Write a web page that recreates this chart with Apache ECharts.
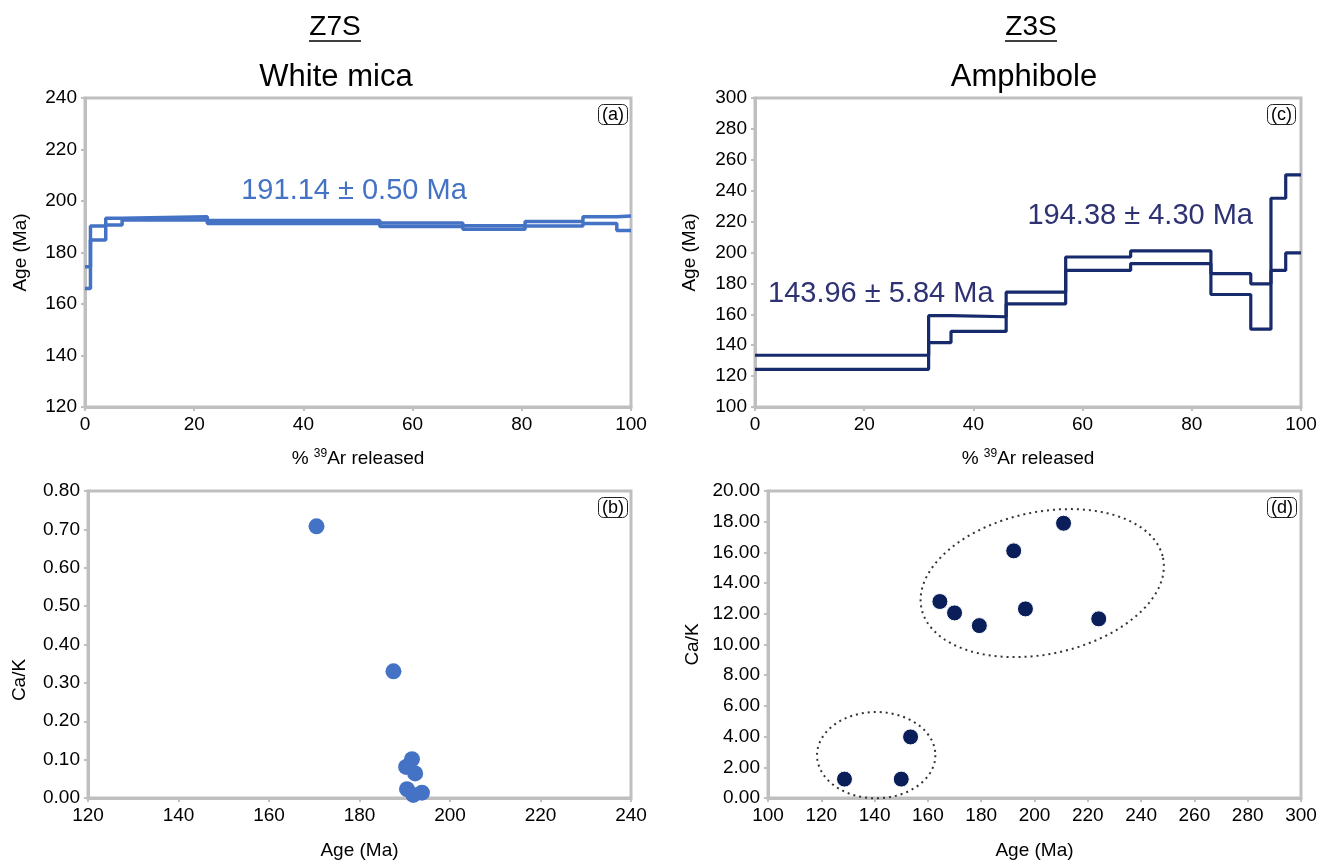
<!DOCTYPE html>
<html><head><meta charset="utf-8">
<script src="https://cdn.jsdelivr.net/npm/echarts@6/dist/echarts.min.js"></script>
<style>html,body{margin:0;padding:0;background:#fff}#c{width:1333px;height:863px}</style>
</head><body><div id="c"></div>
<script>
// ---- Data ----
// (a) Z7S white mica age spectrum: step boundaries (% 39Ar released) and upper/lower ages (Ma)
const micaSteps = [0, 1.0, 3.8, 6.8, 22.4, 54.0, 69.2, 80.6, 91.2, 97.4, 100];
const micaUpper = [174.5, 190.3, 193.3, 193.9, 192.4, 191.5, 190.4, 192.0, 193.9, 194.2];
const micaLower = [166.0, 184.9, 190.7, 192.6, 191.3, 190.1, 189.0, 190.3, 191.3, 188.5];
// (c) Z3S amphibole age spectrum
const amphSteps = [0, 31.8, 35.9, 46.0, 56.9, 68.8, 83.5, 90.8, 94.5, 97.2, 100];
const amphUpper = [133.5, 159.1, 158.4, 174.3, 197.1, 201.0, 186.3, 179.7, 235.1, 250.3];
const amphLower = [124.4, 141.7, 148.9, 166.7, 188.4, 192.8, 172.8, 150.4, 188.4, 199.7];
// (b) white mica Ca/K vs age
const micaAge = [170.5, 187.5, 191.6, 190.3, 192.3, 190.5, 191.9, 193.8];
const micaCaK = [0.708, 0.330, 0.101, 0.081, 0.064, 0.023, 0.008, 0.014];
// (d) amphibole Ca/K vs age
const amphAge = [210.9, 192.2, 164.5, 170.0, 179.3, 196.6, 224.1, 153.5, 128.7, 150.0];
const amphCaK = [17.9, 16.1, 12.8, 12.06, 11.23, 12.32, 11.67, 3.98, 1.23, 1.23];
// grouping ellipses in (d): [centre age, centre Ca/K, half-width (Ma), half-height (Ca/K), tilt deg]
const groupEllipses = [[202.9, 14.0, 46.3, 4.63, 11.8], [140.6, 2.79, 22.2, 2.81, 0]];
// annotation texts
const plateauMica = '191.14 ± 0.50 Ma';
const plateauAmphLow = '143.96 ± 5.84 Ma';
const plateauAmphHigh = '194.38 ± 4.30 Ma';

// ---- helpers ----
function stepPath(bounds, vals) {
  const pts = [];
  for (let i = 0; i < vals.length; i++) {
    pts.push([bounds[i], vals[i]], [bounds[i + 1], vals[i]]);
  }
  return pts;
}
function pairs(xs, ys) { return xs.map((x, i) => [x, ys[i]]); }

const FONT = 'Liberation Sans, Arial, sans-serif';
const AX = '#BFBFBF';
const MICA = '#4472C4';
const AMPH = '#172A6B';
const AMPHTXT = '#2E3273';
const DOT = '#0A1E5A';

function axis(gridIndex, min, max, interval, name, nameGap, fmt, rich) {
  const a = {
    type: 'value', gridIndex, min, max, interval,
    axisLine: { show: true, onZero: false, lineStyle: { color: AX, width: 3 } },
    axisTick: { show: true, inside: false, length: 4, lineStyle: { color: AX, width: 2 } },
    splitLine: { show: false },
    axisLabel: { color: '#000', fontSize: 19, fontFamily: FONT, margin: 8 },
    name, nameLocation: 'middle', nameGap,
    nameTextStyle: { color: '#000', fontSize: 19, fontFamily: FONT }
  };
  if (fmt) a.axisLabel.formatter = fmt;
  if (rich) a.nameTextStyle.rich = rich;
  return a;
}
const supRich = {
  n: { fontSize: 19, fontFamily: FONT, color: '#000', lineHeight: 22 },
  s: { fontSize: 12, fontFamily: FONT, color: '#000', lineHeight: 14, verticalAlign: 'top' }
};
const arName = '{n|% }{s|39}{n|Ar released}';
const f2 = v => v.toFixed(2);

const gridBase = { show: true, borderColor: AX, borderWidth: 3, backgroundColor: 'transparent', containLabel: false };

function panelTag(txt, left, top) {
  return {
    text: txt, left, top, padding: [2, 4, 1, 4],
    borderColor: '#222', borderWidth: 1, borderRadius: 5,
    textStyle: { fontSize: 18, fontWeight: 'normal', color: '#000', fontFamily: FONT }
  };
}
function gtext(txt, x, y, size, color, align, rot) {
  return { type: 'text', x, y, z: 10, rotation: rot || 0,
    style: { text: txt, fontSize: size, fontFamily: FONT, fill: color,
             align: align || 'center', verticalAlign: 'middle',
             textAlign: align || 'center', textVerticalAlign: 'middle' } };
}

const option = {
  animation: false,
  backgroundColor: '#fff',
  title: [
    panelTag('(a)', 598, 104),
    panelTag('(b)', 598, 497),
    panelTag('(c)', 1267, 104),
    panelTag('(d)', 1267, 497)
  ],
  grid: [
    Object.assign({ left: 85, top: 98, width: 546, height: 309 }, gridBase),
    Object.assign({ left: 88, top: 491, width: 543, height: 307 }, gridBase),
    Object.assign({ left: 755, top: 98, width: 546, height: 309 }, gridBase),
    Object.assign({ left: 768, top: 491, width: 533, height: 307 }, gridBase)
  ],
  xAxis: [
    axis(0, 0, 100, 20, arName, 41, null, supRich),
    axis(1, 120, 240, 20, 'Age (Ma)', 43),
    axis(2, 0, 100, 20, arName, 41, null, supRich),
    axis(3, 100, 300, 20, 'Age (Ma)', 43)
  ],
  yAxis: [
    axis(0, 120, 240, 20, 'Age (Ma)', 55),
    axis(1, 0, 0.8, 0.1, '', 58, f2),
    axis(2, 100, 300, 20, 'Age (Ma)', 56),
    axis(3, 0, 20, 2, 'Ca/K', 66, f2)
  ],
  series: [
    { type: 'line', xAxisIndex: 0, yAxisIndex: 0, data: stepPath(micaSteps, micaUpper),
      showSymbol: false, lineStyle: { color: MICA, width: 3.5 }, z: 3 },
    { type: 'line', xAxisIndex: 0, yAxisIndex: 0, data: stepPath(micaSteps, micaLower),
      showSymbol: false, lineStyle: { color: MICA, width: 3.5 }, z: 3 },
    { type: 'line', xAxisIndex: 2, yAxisIndex: 2, data: stepPath(amphSteps, amphUpper),
      showSymbol: false, lineStyle: { color: AMPH, width: 3.2 }, z: 3 },
    { type: 'line', xAxisIndex: 2, yAxisIndex: 2, data: stepPath(amphSteps, amphLower),
      showSymbol: false, lineStyle: { color: AMPH, width: 3.2 }, z: 3 },
    { type: 'scatter', xAxisIndex: 1, yAxisIndex: 1, data: pairs(micaAge, micaCaK),
      symbolSize: 16, itemStyle: { color: MICA, opacity: 1 }, z: 3 },
    { type: 'scatter', xAxisIndex: 3, yAxisIndex: 3, data: pairs(amphAge, amphCaK),
      symbolSize: 16, itemStyle: { color: DOT, borderColor: '#fff', borderWidth: 1, opacity: 1 }, z: 3 },
    { type: 'custom', xAxisIndex: 3, yAxisIndex: 3, data: groupEllipses, silent: true, z: 2,
      renderItem: function (params, api) {
        const c = api.coord([api.value(0), api.value(1)]);
        const s = api.size([api.value(2), api.value(3)]);
        const th = -api.value(4) * Math.PI / 180;
        const pts = [];
        for (let k = 0; k <= 120; k++) {
          const t = k / 120 * 2 * Math.PI;
          const ex = s[0] * Math.cos(t), ey = s[1] * Math.sin(t);
          pts.push([c[0] + ex * Math.cos(th) - ey * Math.sin(th),
                    c[1] + ex * Math.sin(th) + ey * Math.cos(th)]);
        }
        return { type: 'polyline', shape: { points: pts },
                 style: { stroke: '#333', lineWidth: 2, lineDash: [2, 4], fill: null } };
      } }
  ],
  graphic: [
    gtext('Z7S', 335, 27, 28, '#000'),
    { type: 'line', shape: { x1: 309, y1: 41, x2: 361, y2: 41 }, style: { stroke: '#000', lineWidth: 1.5 } },
    gtext('Z3S', 1031, 27, 28, '#000'),
    { type: 'line', shape: { x1: 1005, y1: 41, x2: 1057, y2: 41 }, style: { stroke: '#000', lineWidth: 1.5 } },
    gtext('White mica', 336, 77, 31, '#000'),
    gtext('Amphibole', 1024, 77, 31, '#000'),
    gtext('Ca/K', 20, 680, 19, '#000', 'center', Math.PI / 2),
    gtext(plateauMica, 354, 191, 29, MICA),
    gtext(plateauAmphLow, 768, 294, 29, AMPHTXT, 'left'),
    gtext(plateauAmphHigh, 1253, 216, 29, AMPHTXT, 'right')
  ]
};
const chart = echarts.init(document.getElementById('c'), null, { renderer: 'canvas' });
chart.setOption(option);
</script>
</body></html>
